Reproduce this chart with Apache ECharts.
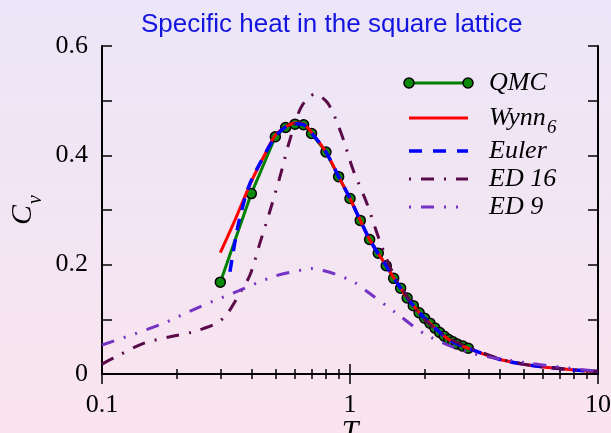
<!DOCTYPE html>
<html>
<head>
<meta charset="utf-8">
<style>
html,body{margin:0;padding:0;}
#chart{width:611px;height:433px;}
</style>
<script src="https://cdn.jsdelivr.net/npm/echarts@6/dist/echarts.min.js"></script>
</head>
<body>
<div id="chart"></div>
<script>
// QMC points
var qmcT  = [0.3, 0.4, 0.5, 0.55, 0.6, 0.65, 0.7, 0.8, 0.9, 1.0, 1.1, 1.2, 1.3, 1.4, 1.5, 1.6, 1.7, 1.8, 1.9, 2.0, 2.1, 2.2, 2.3, 2.4, 2.5, 2.6, 2.7, 2.85, 3.0];
var qmcCv = [0.168, 0.330, 0.434, 0.451, 0.457, 0.456, 0.440, 0.406, 0.361, 0.321, 0.281, 0.246, 0.221, 0.198, 0.175, 0.157, 0.139, 0.125, 0.112, 0.102, 0.093, 0.084, 0.076, 0.069, 0.063, 0.059, 0.055, 0.051, 0.047];

// Wynn_6
var wynnT  = [0.3, 0.344, 0.4, 0.448, 0.5, 0.55, 0.6, 0.65, 0.7, 0.8, 0.9, 1.0, 1.2, 1.4, 1.6, 1.8, 2.0, 2.5, 3.0, 4, 5, 6, 7, 8, 10];
var wynnCv = [0.222, 0.282, 0.352, 0.397, 0.437, 0.452, 0.459, 0.457, 0.442, 0.406, 0.361, 0.321, 0.246, 0.198, 0.157, 0.125, 0.102, 0.063, 0.047, 0.027, 0.018, 0.013, 0.010, 0.0075, 0.0045];

// Euler
var eulerT  = [0.328, 0.355, 0.39, 0.433, 0.5, 0.55, 0.6, 0.65, 0.7, 0.8, 0.9, 1.0, 1.2, 1.4, 1.6, 1.8, 2.0, 2.5, 3.0, 4, 5, 6, 7, 8, 10];
var eulerCv = [0.187, 0.275, 0.342, 0.385, 0.434, 0.452, 0.458, 0.456, 0.441, 0.406, 0.361, 0.321, 0.246, 0.198, 0.157, 0.125, 0.102, 0.063, 0.047, 0.027, 0.018, 0.013, 0.010, 0.0075, 0.0045];

// ED 16
var ed16T  = [0.1, 0.111, 0.147, 0.188, 0.233, 0.256, 0.29, 0.313, 0.333, 0.36, 0.395, 0.433, 0.479, 0.522, 0.572, 0.637, 0.723, 0.815, 0.922, 1.03, 1.17, 1.3, 1.45, 1.59, 1.94, 2.5, 3, 4, 5, 7, 10];
var ed16Cv = [0.018, 0.029, 0.056, 0.068, 0.077, 0.083, 0.093, 0.105, 0.122, 0.148, 0.181, 0.239, 0.303, 0.361, 0.428, 0.489, 0.512, 0.495, 0.44, 0.373, 0.312, 0.251, 0.196, 0.163, 0.105, 0.066, 0.049, 0.028, 0.018, 0.010, 0.0045];

// ED 9
var ed9T  = [0.1, 0.171, 0.248, 0.338, 0.49, 0.65, 0.71, 0.8, 0.88, 1.03, 1.18, 1.54, 2.04, 3.04, 5.3, 10];
var ed9Cv = [0.053, 0.090, 0.123, 0.148, 0.178, 0.191, 0.193, 0.188, 0.182, 0.169, 0.150, 0.111, 0.071, 0.039, 0.0195, 0.005];

var xTicks = [0.1, 1, 10];
var yTicks = [0, 0.2, 0.4, 0.6];

function zip(xs, ys){
	var out = [];
	for(var i=0;i<xs.length;i++){
		out.push([xs[i], ys[i]]);
	}
	return out;
}

var serif = 'Liberation Serif';
var legendY = [83, 118, 151, 179, 207];

var chart = echarts.init(document.getElementById('chart'));

var xAxisBase = {
	type: 'log',
	logBase: 10,
	min: xTicks[0],
	max: xTicks[xTicks.length-1],
	axisLine: {lineStyle: {color: '#000', width: 2}},
	axisTick: {inside: true, length: 10, lineStyle: {color: '#000', width: 1.5}},
	minorTick: {show: true, splitNumber: 9, length: 5, lineStyle: {color: '#000', width: 1.5}},
	splitLine: {show: false},
	minorSplitLine: {show: false}
};
var yAxisBase = {
	type: 'value',
	min: yTicks[0],
	max: yTicks[yTicks.length-1],
	interval: 0.2,
	axisLine: {lineStyle: {color: '#000', width: 2}},
	axisTick: {inside: true, length: 10, lineStyle: {color: '#000', width: 1.5}},
	minorTick: {show: true, splitNumber: 2, length: 10, lineStyle: {color: '#000', width: 1.5}},
	splitLine: {show: false},
	minorSplitLine: {show: false}
};

var option = {
	backgroundColor: {
		type: 'linear', x: 0, y: 0, x2: 0, y2: 1,
		colorStops: [{offset: 0, color: '#ebe6f8'}, {offset: 1, color: '#fae4ee'}]
	},
	animation: false,
	title: {
		text: 'Specific heat in the square lattice',
		left: 136,
		top: 7,
		textStyle: {fontFamily: 'Liberation Sans', fontSize: 26, fontWeight: 'normal', color: '#1414e0'}
	},
	grid: {left: 102, right: 13, top: 46, bottom: 59, outerBoundsMode: 'none'},
	xAxis: [
		Object.assign({}, xAxisBase, {
			position: 'bottom',
			name: 'T',
			nameLocation: 'middle',
			nameMoveOverlap: false,
			nameGap: 43,
			nameTextStyle: {fontFamily: serif, fontStyle: 'italic', fontSize: 30, color: '#000'},
			axisLabel: {margin: 18, fontFamily: serif, fontSize: 26, color: '#000'}
		}),
		Object.assign({}, xAxisBase, {
			position: 'top',
			axisLabel: {show: false}
		})
	],
	yAxis: [
		Object.assign({}, yAxisBase, {
			position: 'left',
			name: '{c|C}{s|v}',
			nameLocation: 'middle',
			nameMoveOverlap: false,
			nameGap: 64,
			nameTextStyle: {
				rich: {
					c: {fontFamily: serif, fontStyle: 'italic', fontSize: 30, lineHeight: 30, verticalAlign: 'top', color: '#000'},
					s: {fontFamily: serif, fontStyle: 'italic', fontSize: 20, lineHeight: 20, verticalAlign: 'top', padding: [18, 0, 0, 1], color: '#000'}
				}
			},
			axisLabel: {margin: 14, fontFamily: serif, fontSize: 26, color: '#000'}
		}),
		Object.assign({}, yAxisBase, {
			position: 'right',
			axisLabel: {show: false}
		})
	],
	series: [
		{
			name: 'QMC',
			type: 'line',
			z: 2,
			data: zip(qmcT, qmcCv),
			symbol: 'circle',
			symbolSize: 10,
			lineStyle: {color: '#008000', width: 3},
			itemStyle: {color: '#0a8a0a', borderColor: '#000', borderWidth: 1.5}
		},
		{
			name: 'Wynn6',
			type: 'line',
			z: 3,
			smooth: 0.3,
			showSymbol: false,
			data: zip(wynnT, wynnCv),
			lineStyle: {color: '#ff0000', width: 3}
		},
		{
			name: 'Euler',
			type: 'line',
			z: 3,
			smooth: 0.3,
			showSymbol: false,
			data: zip(eulerT, eulerCv),
			lineStyle: {color: '#0000ff', width: 3.5, type: [12, 9]}
		},
		{
			name: 'ED 16',
			type: 'line',
			z: 3,
			smooth: 0.3,
			showSymbol: false,
			data: zip(ed16T, ed16Cv),
			lineStyle: {color: '#5a0a48', width: 3, type: [13, 10, 2, 10]}
		},
		{
			name: 'ED 9',
			type: 'line',
			z: 3,
			smooth: 0.3,
			showSymbol: false,
			data: zip(ed9T, ed9Cv),
			lineStyle: {color: '#7433c4', width: 3, type: [13, 10, 2, 10, 2, 10]}
		}
	],
	graphic: [
		// legend, drawn by hand so QMC gets a circle on each end
		{type: 'line', shape: {x1: 409, y1: legendY[0], x2: 468, y2: legendY[0]}, style: {stroke: '#008000', lineWidth: 3}},
		{type: 'circle', shape: {cx: 409, cy: legendY[0], r: 5}, style: {fill: '#0a8a0a', stroke: '#000', lineWidth: 1.5}},
		{type: 'circle', shape: {cx: 468, cy: legendY[0], r: 5}, style: {fill: '#0a8a0a', stroke: '#000', lineWidth: 1.5}},
		{type: 'line', shape: {x1: 409, y1: legendY[1], x2: 468, y2: legendY[1]}, style: {stroke: '#ff0000', lineWidth: 3}},
		{type: 'line', shape: {x1: 409, y1: legendY[2], x2: 468, y2: legendY[2]}, style: {stroke: '#0000ff', lineWidth: 3.5, lineDash: [13, 11]}},
		{type: 'line', shape: {x1: 409, y1: legendY[3], x2: 468, y2: legendY[3]}, style: {stroke: '#5a0a48', lineWidth: 3, lineDash: [2, 10, 13, 10]}},
		{type: 'line', shape: {x1: 409, y1: legendY[4], x2: 468, y2: legendY[4]}, style: {stroke: '#7433c4', lineWidth: 3, lineDash: [2, 10, 13, 10, 2, 10]}},
		{type: 'text', x: 489, y: legendY[0], style: {text: 'QMC', fontFamily: serif, fontStyle: 'italic', fontSize: 26, fill: '#000', verticalAlign: 'middle'}},
		{type: 'text', x: 489, y: legendY[1], style: {text: 'Wynn', fontFamily: serif, fontStyle: 'italic', fontSize: 26, fill: '#000', verticalAlign: 'middle'}},
		{type: 'text', x: 547, y: legendY[1] + 10, style: {text: '6', fontFamily: serif, fontStyle: 'italic', fontSize: 19, fill: '#000', verticalAlign: 'middle'}},
		{type: 'text', x: 489, y: legendY[2], style: {text: 'Euler', fontFamily: serif, fontStyle: 'italic', fontSize: 26, fill: '#000', verticalAlign: 'middle'}},
		{type: 'text', x: 489, y: legendY[3], style: {text: 'ED 16', fontFamily: serif, fontStyle: 'italic', fontSize: 26, fill: '#000', verticalAlign: 'middle'}},
		{type: 'text', x: 489, y: legendY[4], style: {text: 'ED 9', fontFamily: serif, fontStyle: 'italic', fontSize: 26, fill: '#000', verticalAlign: 'middle'}}
	]
};

chart.setOption(option);
</script>
</body>
</html>
